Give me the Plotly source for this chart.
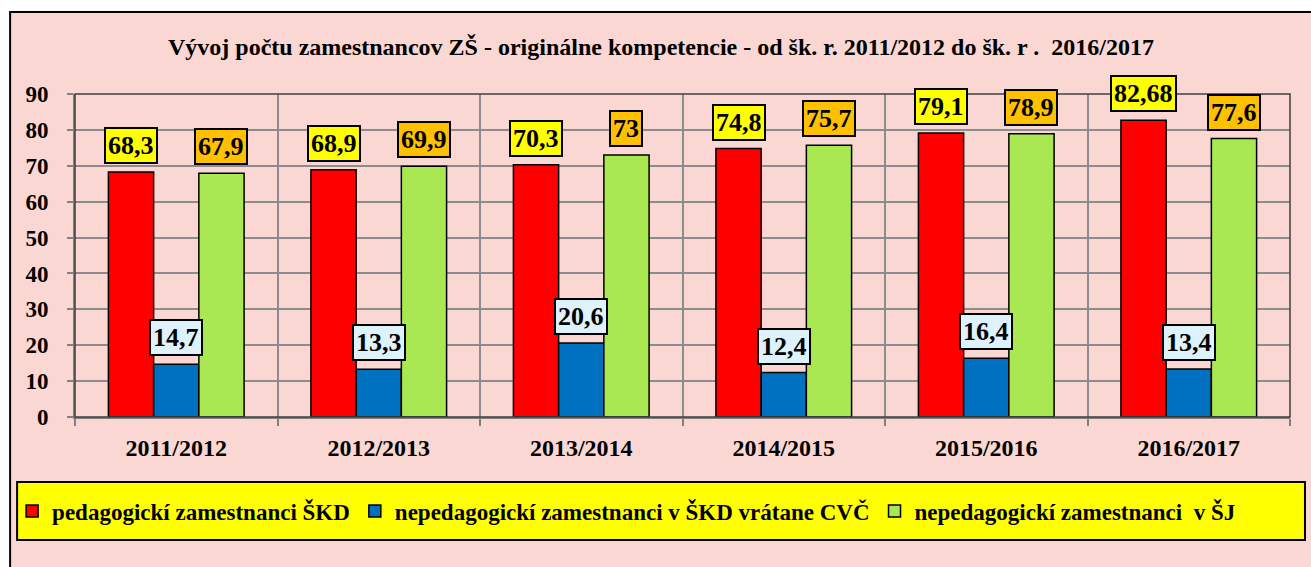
import plotly.graph_objects as go

categories = ["2011/2012", "2012/2013", "2013/2014", "2014/2015", "2015/2016", "2016/2017"]
ped_skd = [68.3, 68.9, 70.3, 74.8, 79.1, 82.68]
neped_skd = [14.7, 13.3, 20.6, 12.4, 16.4, 13.4]
neped_sj = [67.9, 69.9, 73, 75.7, 78.9, 77.6]

series_names = [
    "pedagogickí zamestnanci ŠKD",
    "nepedagogickí zamestnanci v ŠKD vrátane CVČ",
    "nepedagogickí zamestnanci  v ŠJ",
]
title_text = "Vývoj počtu zamestnancov ZŠ - originálne kompetencie - od šk. r. 2011/2012 do šk. r .  2016/2017"

W, H = 1311, 567
L, R, T, B = 73, 21, 94, 150
PW, PH = W - L - R, H - T - B

def px_x(p):
    return (p - L) / PW

def px_y(p):
    return (H - B - p) / PH

FONT = "Liberation Serif"
bar_colors = ["#FF0000", "#0070C0", "#A9E852"]
label_bg = ["#FFFF00", "#DDF2FA", "#FFC000"]
bargap = 0.33
bw = (1 - bargap) / 3

x = list(range(len(categories)))
fig = go.Figure()
for name, vals, col in zip(series_names, [ped_skd, neped_skd, neped_sj], bar_colors):
    fig.add_trace(go.Bar(
        x=x, y=vals, name=name,
        marker=dict(color=col, line=dict(color="black", width=1.5)),
    ))

def fmt(v):
    return f"{v:g}".replace(".", ",")

annotations = []
for k, vals in enumerate([ped_skd, neped_skd, neped_sj]):
    off = (k - 1) * bw
    for i, v in enumerate(vals):
        annotations.append(dict(
            x=i + off, y=v, xref="x", yref="y", text="<b>" + fmt(v) + "</b>", showarrow=False,
            yanchor="bottom", yshift=8,
            font=dict(family=FONT, size=26, color="black"),
            bgcolor=label_bg[k], bordercolor="black", borderwidth=2, borderpad=2,
        ))

shapes = [
    dict(type="rect", xref="paper", yref="paper", layer="below",
         x0=px_x(8), x1=px_x(1330), y0=px_y(590), y1=px_y(12),
         fillcolor="#FAD7D2", line=dict(color="black", width=2)),
    dict(type="rect", xref="paper", yref="paper", layer="below",
         x0=px_x(15), x1=px_x(1305), y0=px_y(540), y1=px_y(482),
         fillcolor="#FFFF00", line=dict(color="black", width=2)),
    dict(type="rect", xref="paper", yref="paper", layer="above",
         x0=0, x1=1, y0=0, y1=1, line=dict(color="#404040", width=1.5)),
]

fig.update_layout(
    width=W, height=H,
    margin=dict(l=L, r=R, t=T, b=B),
    paper_bgcolor="white",
    plot_bgcolor="white",
    barmode="group", bargap=bargap, bargroupgap=0,
    title=dict(text="<b>" + title_text + "</b>", x=661 / W, xanchor="center",
               y=1 - 47 / H, yanchor="middle", yref="container", xref="container",
               font=dict(family=FONT, size=24, color="black")),
    showlegend=True,
    legend=dict(orientation="h", x=px_x(10), xanchor="left", y=px_y(511), yanchor="middle",
                bgcolor="rgba(0,0,0,0)", font=dict(family=FONT, size=23, color="black", weight="bold"),
                itemwidth=30, traceorder="normal"),
    annotations=annotations,
    shapes=shapes,
    font=dict(family=FONT, color="black"),
)
fig.update_xaxes(
    range=[-0.5, len(categories) - 0.5],
    tickmode="array", tickvals=x, ticktext=["<b>" + c + "</b>" for c in categories],
    showgrid=False, ticks="", ticklabelstandoff=8,
    tickfont=dict(family=FONT, size=24, color="black"),
    showline=True, linecolor="#808080", linewidth=2,
    minor=dict(tickmode="array", tickvals=[i - 0.5 for i in range(len(categories) + 1)],
               showgrid=True, gridcolor="#8C8C8C", gridwidth=2,
               ticks="outside", ticklen=7, tickcolor="#808080", tickwidth=2),
    zeroline=False,
)
fig.update_yaxes(
    range=[0, 90], dtick=10, tick0=0,
    showgrid=True, gridcolor="#8C8C8C", gridwidth=2,
    ticks="outside", ticklen=6, tickcolor="#808080", tickwidth=2,
    ticklabelstandoff=14,
    tickfont=dict(family=FONT, size=23, color="black", weight="bold"),
    showline=True, linecolor="#808080", linewidth=2, zeroline=False,
)

fig.write_html("out.html", config={"displayModeBar": False},
               post_script="document.body.style.margin='0';document.body.style.overflow='hidden';")
